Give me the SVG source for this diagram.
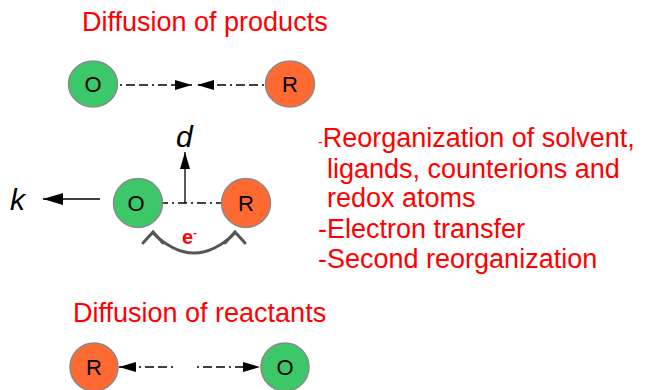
<svg xmlns="http://www.w3.org/2000/svg" width="645" height="390" viewBox="0 0 645 390">
<style>
.lbl{font-family:"Liberation Sans",Arial,sans-serif;font-size:27px;fill:#FF0000}
.nt{font-family:"Liberation Sans",Arial,sans-serif;font-size:22px;fill:#000;text-anchor:middle}
.ox{fill:#3CC868;stroke:#8a8a8a;stroke-width:1.5}
.rd{fill:#FF6A33;stroke:#8a8a8a;stroke-width:1.5}
.dd{stroke:#000;stroke-width:1.3;fill:none;stroke-dasharray:2,4,9,4,9,4}
.sl{stroke:#000;stroke-width:1.3;fill:none}
.it{font-family:"Liberation Sans",Arial,sans-serif;font-style:italic;font-size:30px;fill:#000}
</style>
<defs>
<marker id="ah" markerUnits="userSpaceOnUse" markerWidth="17" markerHeight="10" refX="17" refY="5" orient="auto">
<path d="M0,0 L17,5 L0,10 z" fill="#000"/>
</marker>
<marker id="ahb" markerUnits="userSpaceOnUse" markerWidth="20" markerHeight="12" refX="20" refY="6" orient="auto">
<path d="M0,0 L20,6 L0,12 z" fill="#000"/>
</marker>
</defs>
<text class="lbl" x="82" y="31">Diffusion of products</text>
<text class="lbl" x="73" y="322">Diffusion of reactants</text>
<g id="steps">
<text class="lbl" x="318" y="147"><tspan font-size="14">-</tspan>Reorganization of solvent,</text>
<text class="lbl" x="327" y="178">ligands, counterions and</text>
<text class="lbl" x="327" y="207">redox atoms</text>
<text class="lbl" x="318" y="238">-Electron transfer</text>
<text class="lbl" x="318" y="268">-Second reorganization</text>
</g>
<g id="connectors">
<line class="dd" x1="120" y1="85" x2="192" y2="85" marker-end="url(#ah)"/>
<line class="dd" x1="264" y1="85" x2="197" y2="85" marker-end="url(#ah)"/>
<line class="dd" x1="153" y1="203" x2="227" y2="203" style="stroke-dasharray:2,4,9,4"/>
<line class="sl" x1="185" y1="203" x2="185" y2="152" marker-end="url(#ah)"/>
<line class="sl" x1="100" y1="199" x2="43" y2="199" marker-end="url(#ahb)"/>
<line class="dd" x1="173" y1="367" x2="119" y2="367" marker-end="url(#ah)"/>
<line class="dd" x1="197" y1="367" x2="260" y2="367" marker-end="url(#ah)"/>
<g stroke="#555" stroke-width="3" fill="none" stroke-linecap="round" stroke-linejoin="miter">
<path d="M153,233 Q194,273 235,233"/>
<path d="M143,243 L153,232 L163,243"/>
<path d="M225,243 L235,232 L245,243"/>
</g>
</g>
<g id="top-O"><ellipse class="ox" cx="93" cy="84" rx="24.5" ry="23"/><text class="nt" x="93" y="92">O</text></g>
<g id="top-R"><ellipse class="rd" cx="290" cy="84" rx="24.5" ry="23"/><text class="nt" x="290" y="92">R</text></g>
<g id="mid-O"><circle class="ox" cx="138" cy="203" r="24.5"/><text class="nt" x="136" y="211">O</text></g>
<g id="mid-R"><circle class="rd" cx="246" cy="203" r="24.5"/><text class="nt" x="246" y="211">R</text></g>
<g id="bot-R"><circle class="rd" cx="94" cy="367" r="24"/><text class="nt" x="94" y="375">R</text></g>
<g id="bot-O"><circle class="ox" cx="285" cy="367" r="24"/><text class="nt" x="285" y="375">O</text></g>
<text class="it" x="176" y="147">d</text>
<text class="it" x="10" y="210">k</text>
<text x="182" y="244" font-family="Liberation Sans,Arial,sans-serif" font-weight="bold" font-size="20" fill="#FF0000">e<tspan font-size="11" dy="-8">-</tspan></text>
</svg>
